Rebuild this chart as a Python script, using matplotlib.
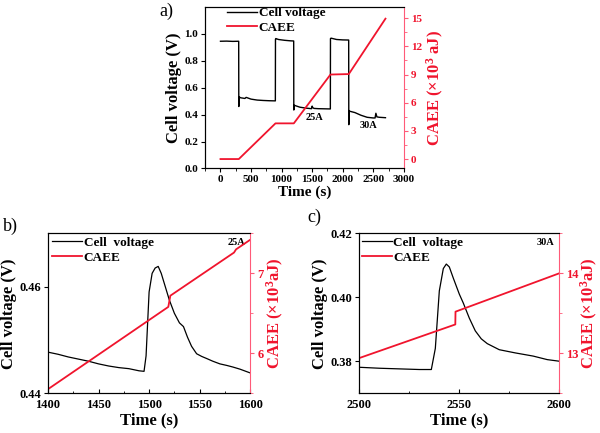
import numpy as np
import matplotlib.pyplot as plt
from matplotlib.ticker import AutoMinorLocator

plt.rcParams['font.family'] = ['Liberation Serif', 'DejaVu Serif']
plt.rcParams['font.weight'] = 'bold'
plt.rcParams['axes.labelweight'] = 'bold'
plt.rcParams['mathtext.default'] = 'regular'

RED = '#f0142d'
PINK = '#ff5a78'

# panel a: whole run
t_a = [0, 100, 200, 298, 300, 302, 310, 330, 400, 420, 500, 600, 700, 800, 898,
       900, 905, 950, 1050, 1150, 1198, 1200, 1202, 1215, 1300, 1400, 1490, 1500, 1510,
       1530, 1600, 1700, 1798, 1800, 1810, 1900, 2000, 2098, 2100, 2103, 2115, 2200,
       2300, 2400, 2500, 2530, 2543, 2560, 2600, 2700]
v_a = [0.945, 0.946, 0.944, 0.945, 0.46, 0.52, 0.53, 0.525, 0.52, 0.528, 0.515, 0.508,
       0.505, 0.503, 0.502, 0.96, 0.965, 0.958, 0.952, 0.948, 0.947, 0.434, 0.47, 0.468,
       0.455, 0.448, 0.444, 0.463, 0.452, 0.446, 0.444, 0.443, 0.442, 0.965, 0.968, 0.958,
       0.955, 0.954, 0.325, 0.43, 0.425, 0.415, 0.395, 0.38, 0.375, 0.375, 0.41, 0.383,
       0.38, 0.377]
t_caee_a = [0, 300, 900, 1200, 1800, 2100, 2700]
caee_a = [0, 0, 3.8, 3.8, 9.0, 9.05, 14.95]

# panel b: zoom around 1500 s
t_b = [1400, 1410, 1420, 1430, 1440, 1450, 1460, 1470, 1480, 1490, 1495, 1497, 1500,
       1503, 1506, 1509, 1512, 1516, 1520, 1525, 1530, 1534, 1538, 1542, 1547, 1552,
       1557, 1563, 1570, 1577, 1583, 1590, 1600]
v_b = [0.4477, 0.4473, 0.4468, 0.4464, 0.4460, 0.4455, 0.4451, 0.4448, 0.4446, 0.4442,
       0.4441, 0.4470, 0.4590, 0.4625, 0.4635, 0.4638, 0.4625, 0.4600, 0.4575, 0.4550,
       0.4532, 0.4525, 0.4505, 0.4488, 0.4474, 0.4469, 0.4465, 0.4460, 0.4455, 0.4452,
       0.4449, 0.4445, 0.4438]
t_caee_b = [1400, 1519, 1521, 1584, 1586, 1600]
caee_b = [5.55, 6.58, 6.72, 7.26, 7.30, 7.42]

# panel c: zoom around 2545 s
t_c = [2500, 2510, 2520, 2530, 2536, 2538, 2540, 2542, 2543.5, 2545, 2547, 2550, 2552,
       2555, 2558, 2561, 2564, 2570, 2578, 2587, 2594, 2600]
v_c = [0.3781, 0.3778, 0.3776, 0.3774, 0.3774, 0.3840, 0.4020, 0.4090, 0.4104, 0.4095,
       0.4060, 0.4010, 0.3982, 0.3935, 0.3895, 0.3870, 0.3855, 0.3836, 0.3826, 0.3816,
       0.3805, 0.3800]
t_caee_c = [2500, 2548, 2548.1, 2600]
caee_c = [12.94, 13.36, 13.52, 14.0]


def style_twin(ax, ax2, tsize, xdir, xpad):
    for a in (ax, ax2):
        a.tick_params(labelsize=tsize, width=0.8, length=3, pad=2)
        a.tick_params(which='minor', length=1.8, width=0.6)
    ax.tick_params(axis='x', which='both', direction=xdir, pad=xpad)
    ax2.spines['right'].set_color(PINK)
    ax2.tick_params(axis='y', colors=PINK, labelcolor=RED, which='both')
    ax.spines['right'].set_visible(False)
    ax2.yaxis.label.set_color(RED)
    ax.xaxis.set_minor_locator(AutoMinorLocator(2))
    ax2.yaxis.set_minor_locator(AutoMinorLocator(2))


def add_legend(ax, l1, l2, names, anchor):
    ax.legend([l1, l2], names, loc='upper left', bbox_to_anchor=anchor,
              frameon=False, fontsize=9.5, handlelength=2.3, handletextpad=0.1,
              labelspacing=0.2, borderaxespad=0, borderpad=0)


fig = plt.figure(figsize=(6, 4.33), dpi=100)

# ---- a)
ax = fig.add_axes([0.342, 0.611, 0.331, 0.373])
ax2 = ax.twinx()
l1, = ax.plot(t_a, v_a, color='black', lw=1.0)
l2, = ax2.plot(t_caee_a, caee_a, color=RED, lw=1.3)
ax.set_xlim(-250, 3000)
ax.set_ylim(0, 1.2)
ax.set_yticks(np.arange(0, 1.01, 0.2))
ax.set_xticks(np.arange(0, 3001, 500))
ax2.set_ylim(-1, 16.2)
ax2.set_yticks(np.arange(0, 16, 3))
ax.set_xlabel('Time (s)', fontsize=11, labelpad=1)
ax.set_ylabel('Cell voltage (V)', fontsize=12, labelpad=2)
ax2.set_ylabel('CAEE (×10$^3$ aJ)', fontsize=12, labelpad=2)
style_twin(ax, ax2, 8, 'out', 2)
ax.text(1545, 0.38, '25A', fontsize=7.5, ha='center', va='center')
ax.text(2418, 0.318, '30A', fontsize=7.5, ha='center', va='center')
add_legend(ax, l1, l2, ['Cell voltage', 'CAEE'], (0.11, 1.0))
fig.text(0.266, 0.974, 'a)', fontsize=13, fontweight='normal', va='center')

# ---- b)
ax = fig.add_axes([0.08, 0.092, 0.337, 0.369])
ax2 = ax.twinx()
l1, = ax.plot(t_b, v_b, color='black', lw=0.9)
l2, = ax2.plot(t_caee_b, caee_b, color=RED, lw=1.3)
ax.set_xlim(1400, 1600)
ax.set_ylim(0.44, 0.47)
ax.set_yticks([0.44, 0.46])
ax.set_xticks(np.arange(1400, 1601, 50))
ax2.set_ylim(5.5, 7.5)
ax2.set_yticks([6, 7])
ax.set_xlabel('Time (s)', fontsize=12, labelpad=1)
ax.set_ylabel('Cell voltage (V)', fontsize=12, labelpad=2)
ax2.set_ylabel('CAEE (×10$^3$aJ)', fontsize=12, labelpad=1)
style_twin(ax, ax2, 9, 'in', 4)
ax.text(0.93, 0.94, '25A', transform=ax.transAxes, fontsize=7.5, ha='center', va='center')
add_legend(ax, l1, l2, ['Cell  voltage', 'CAEE'], (0.02, 0.98))
fig.text(0.005, 0.478, 'b)', fontsize=13, fontweight='normal', va='center')

# ---- c)
ax = fig.add_axes([0.599, 0.092, 0.333, 0.369])
ax2 = ax.twinx()
l1, = ax.plot(t_c, v_c, color='black', lw=0.9)
l2, = ax2.plot(t_caee_c, caee_c, color=RED, lw=1.3)
ax.set_xlim(2500, 2600)
ax.set_ylim(0.37, 0.42)
ax.set_yticks([0.38, 0.40, 0.42])
ax.set_xticks([2500, 2550, 2600])
ax2.set_ylim(12.5, 14.5)
ax2.set_yticks([13, 14])
ax.set_xlabel('Time (s)', fontsize=12, labelpad=1)
ax.set_ylabel('Cell voltage (V)', fontsize=12, labelpad=2)
ax2.set_ylabel('CAEE (×10$^3$aJ)', fontsize=12, labelpad=0)
style_twin(ax, ax2, 9, 'in', 4)
ax.text(0.93, 0.94, '30A', transform=ax.transAxes, fontsize=7.5, ha='center', va='center')
add_legend(ax, l1, l2, ['Cell  voltage', 'CAEE'], (0.012, 0.98))
fig.text(0.512, 0.497, 'c)', fontsize=13, fontweight='normal', va='center')

fig.savefig('out.png', dpi=100)
